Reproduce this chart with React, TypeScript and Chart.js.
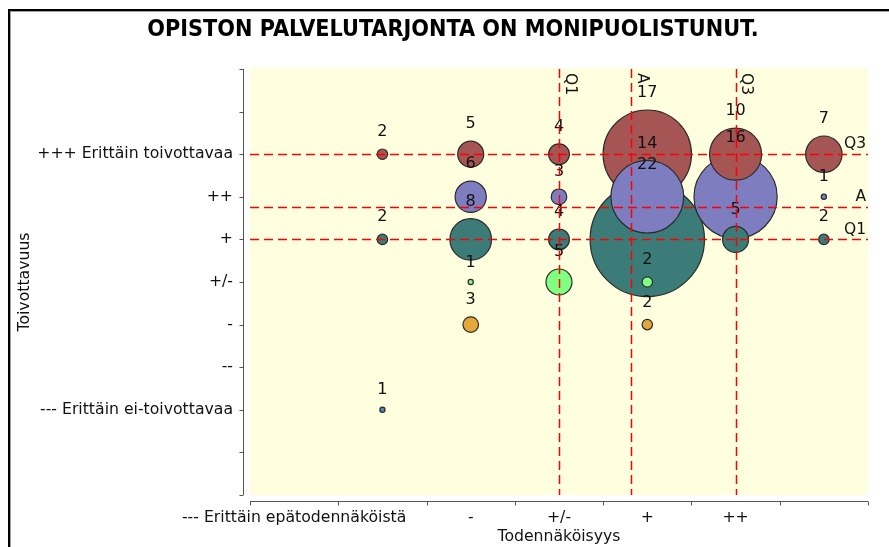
import React, { useEffect, useRef } from 'react';
import { Chart, registerables } from 'chart.js';

Chart.register(...registerables);

const TITLE = 'OPISTON PALVELUTARJONTA ON MONIPUOLISTUNUT.';
const X_TITLE = 'Todennäköisyys';
const Y_TITLE = 'Toivottavuus';

// Likelihood levels 1..7 along x (empty strings are unlabelled levels)
const X_LEVELS = [1, 2, 3, 4, 5, 6, 7];
const X_TICK_LABELS = ['--- Erittäin epätodennäköistä', '', '-', '+/-', '+', '++', ''];

// Desirability levels along y
const Y_LEVELS = [7, 6, 5, 4, 3, 2, 1];
const Y_TICK_LABELS = [
  '+++ Erittäin toivottavaa',
  '++',
  '+',
  '+/-',
  '-',
  '--',
  '--- Erittäin ei-toivottavaa',
];

// Answer counts per desirability level, indexed by likelihood level 1..7
const COUNTS_VERY_DESIRABLE = [0, 2, 5, 4, 17, 10, 7];
const COUNTS_DESIRABLE_2 = [0, 0, 6, 3, 14, 16, 1];
const COUNTS_DESIRABLE_1 = [0, 2, 8, 4, 22, 5, 2];
const COUNTS_NEUTRAL = [0, 0, 1, 5, 2, 0, 0];
const COUNTS_UNDESIRABLE_1 = [0, 0, 3, 0, 2, 0, 0];
const COUNTS_UNDESIRABLE_2 = [0, 0, 0, 0, 0, 0, 0];
const COUNTS_VERY_UNDESIRABLE = [0, 1, 0, 0, 0, 0, 0];

const ROW_COUNTS = [
  COUNTS_VERY_DESIRABLE,
  COUNTS_DESIRABLE_2,
  COUNTS_DESIRABLE_1,
  COUNTS_NEUTRAL,
  COUNTS_UNDESIRABLE_1,
  COUNTS_UNDESIRABLE_2,
  COUNTS_VERY_UNDESIRABLE,
];
const ROW_COLORS = ['#A65555', '#7D7DC0', '#3B7C78', '#80FF80', '#E4A83A', '#999999', '#4A88C4'];

// Quartiles and mean of both answer distributions
const X_MARKERS = [
  { value: 4, label: 'Q1' },
  { value: 4.82, label: 'A' },
  { value: 6, label: 'Q3' },
];
const Y_MARKERS = [
  { value: 7, label: 'Q3' },
  { value: 5.76, label: 'A' },
  { value: 5, label: 'Q1' },
];

const PX_PER_ANSWER = 2.6;
const FONT = '"DejaVu Sans", sans-serif';
const TITLE_FONT = '"DejaVu Sans Condensed", "DejaVu Sans", sans-serif';
const TEXT_SIZE = 15.7;

type Bubble = { x: number; y: number; r: number; count: number; color: string };

function buildBubbles(): Bubble[] {
  const list: Bubble[] = [];
  ROW_COUNTS.forEach((counts, row) => {
    counts.forEach((count, i) => {
      if (count > 0) {
        list.push({
          x: X_LEVELS[i],
          y: Y_LEVELS[row],
          r: count * PX_PER_ANSWER,
          count,
          color: ROW_COLORS[row],
        });
      }
    });
  });
  // larger bubbles first so the smaller ones stay visible on top
  return list.sort((a, b) => b.count - a.count);
}

// White panel with its frame, the plot background and the centred heading
const backgroundPlugin = {
  id: 'panelBackground',
  beforeDraw(chart: any) {
    const { ctx, chartArea: a, width, height } = chart;
    ctx.save();
    ctx.fillStyle = '#ffffff';
    ctx.fillRect(0, 0, width, height);
    ctx.fillStyle = '#000000';
    ctx.fillRect(8, 9, 2, height);
    ctx.fillRect(8, 9, width, 2);
    ctx.fillStyle = '#a0a0a0';
    ctx.fillRect(10, 11, 1, height);
    ctx.fillRect(10, 11, width, 1);
    ctx.fillStyle = '#FFFFE0';
    ctx.fillRect(a.left, a.top - 1, a.right - a.left, a.bottom - a.top + 1);

    ctx.font = `bold 23.2px ${TITLE_FONT}`;
    ctx.fillStyle = '#000000';
    ctx.textAlign = 'center';
    ctx.textBaseline = 'middle';
    ctx.fillText(TITLE, 453, 30);
    ctx.restore();
  },
};

const axesPlugin = {
  id: 'offsetAxes',
  afterDraw(chart: any) {
    const { ctx, chartArea: a } = chart;
    const xs = chart.scales.x;
    const ys = chart.scales.y;
    ctx.save();
    ctx.strokeStyle = '#555555';
    ctx.lineWidth = 1;
    // y axis line and tick marks
    const axX = a.left - 6.5;
    ctx.beginPath();
    ctx.moveTo(axX, ys.getPixelForValue(9));
    ctx.lineTo(axX, ys.getPixelForValue(-1));
    for (let v = -1; v <= 9; v++) {
      const py = Math.round(ys.getPixelForValue(v)) + 0.5;
      ctx.moveTo(axX, py);
      ctx.lineTo(axX - 4, py);
    }
    // x axis line and tick marks
    const axY = a.bottom + 6.5;
    ctx.moveTo(xs.getPixelForValue(0.5), axY);
    ctx.lineTo(xs.getPixelForValue(7.5), axY);
    for (let v = 0.5; v <= 7.5; v += 1) {
      const px = Math.round(xs.getPixelForValue(v)) + 0.5;
      ctx.moveTo(px, axY);
      ctx.lineTo(px, axY + 4);
    }
    ctx.stroke();

    // x tick labels centred on their levels
    ctx.font = `${TEXT_SIZE}px ${FONT}`;
    ctx.fillStyle = '#111111';
    ctx.textBaseline = 'middle';
    ctx.textAlign = 'center';
    X_LEVELS.forEach((lv, i) => {
      const text = X_TICK_LABELS[i];
      if (!text) return;
      ctx.fillText(text, xs.getPixelForValue(lv), a.bottom + 23);
    });
    ctx.restore();
  },
};

const overlayPlugin = {
  id: 'bubbleOverlay',
  afterDatasetsDraw(chart: any) {
    const { ctx, chartArea: a } = chart;
    const xs = chart.scales.x;
    const ys = chart.scales.y;
    const meta = chart.getDatasetMeta(0);
    const data = chart.data.datasets[0].data as Bubble[];
    ctx.save();

    // answer counts above each bubble
    ctx.font = `16px ${FONT}`;
    ctx.fillStyle = '#111111';
    ctx.textAlign = 'center';
    ctx.textBaseline = 'middle';
    meta.data.forEach((el: any, i: number) => {
      const d = data[i];
      ctx.fillText(String(d.count), el.x, el.y - d.r - 17);
    });

    // quartile and mean markers
    ctx.strokeStyle = '#FF0000';
    ctx.lineWidth = 1.5;
    ctx.setLineDash([9, 5]);
    X_MARKERS.forEach((m) => {
      const px = Math.round(xs.getPixelForValue(m.value)) + 0.5;
      ctx.beginPath();
      ctx.moveTo(px, a.top);
      ctx.lineTo(px, a.bottom);
      ctx.stroke();
    });
    Y_MARKERS.forEach((m) => {
      const py = Math.round(ys.getPixelForValue(m.value)) + 0.5;
      ctx.beginPath();
      ctx.moveTo(a.left, py);
      ctx.lineTo(a.right, py);
      ctx.stroke();
    });
    ctx.setLineDash([]);

    ctx.font = `15.5px ${FONT}`;
    ctx.fillStyle = '#111111';
    X_MARKERS.forEach((m) => {
      const px = xs.getPixelForValue(m.value);
      ctx.save();
      ctx.translate(px + 3, a.top + 4);
      ctx.rotate(Math.PI / 2);
      ctx.textAlign = 'left';
      ctx.textBaseline = 'bottom';
      ctx.fillText(m.label, 0, 0);
      ctx.restore();
    });
    ctx.textAlign = 'right';
    ctx.textBaseline = 'bottom';
    Y_MARKERS.forEach((m) => {
      const py = ys.getPixelForValue(m.value);
      ctx.fillText(m.label, a.right - 2, py - 2);
    });
    ctx.restore();
  },
};

export default function App() {
  const canvasRef = useRef<HTMLCanvasElement | null>(null);

  useEffect(() => {
    const canvas = canvasRef.current;
    if (!canvas) return;
    const chart = new Chart(canvas, {
      type: 'bubble',
      data: {
        datasets: [
          {
            data: buildBubbles() as any,
            backgroundColor: (c: any) => (c.raw ? c.raw.color : '#999'),
            borderColor: '#2a2a2a',
            borderWidth: 1.2,
            clip: false,
          } as any,
        ],
      },
      options: {
        responsive: false,
        animation: false,
        events: [],
        layout: { autoPadding: false, padding: { left: 9, right: 21, top: 69, bottom: 0 } },
        plugins: {
          legend: { display: false },
          tooltip: { enabled: false },
          title: { display: false },
        },
        scales: {
          x: {
            type: 'linear',
            min: 0.5,
            max: 7.5,
            grid: { display: false, drawTicks: false },
            border: { display: false },
            ticks: { display: false },
            title: {
              display: true,
              text: X_TITLE,
              color: '#111111',
              font: { family: FONT, size: TEXT_SIZE },
              padding: { top: 0, bottom: 1 },
            },
            afterFit: (s: any) => {
              s.height = 52;
            },
          },
          y: {
            type: 'linear',
            min: -1,
            max: 9,
            grid: { display: false, drawTicks: false },
            border: { display: false },
            ticks: {
              stepSize: 1,
              autoSkip: false,
              padding: 17,
              color: '#111111',
              font: { family: FONT, size: TEXT_SIZE },
              callback: (v: any) => {
                const idx = Y_LEVELS.indexOf(Number(v));
                return idx >= 0 ? Y_TICK_LABELS[idx] : '';
              },
            },
            title: {
              display: true,
              text: Y_TITLE,
              color: '#111111',
              font: { family: FONT, size: TEXT_SIZE },
              padding: { top: 7, bottom: 0 },
            },
            afterFit: (s: any) => {
              s.width = 241;
            },
          },
        },
      },
      plugins: [backgroundPlugin, axesPlugin, overlayPlugin],
    });
    return () => chart.destroy();
  }, []);

  return (
    <div style={{ position: 'fixed', left: 0, top: 0, width: 889, height: 547, background: '#fff' }}>
      <canvas ref={canvasRef} width={889} height={547} style={{ display: 'block' }} />
    </div>
  );
}
